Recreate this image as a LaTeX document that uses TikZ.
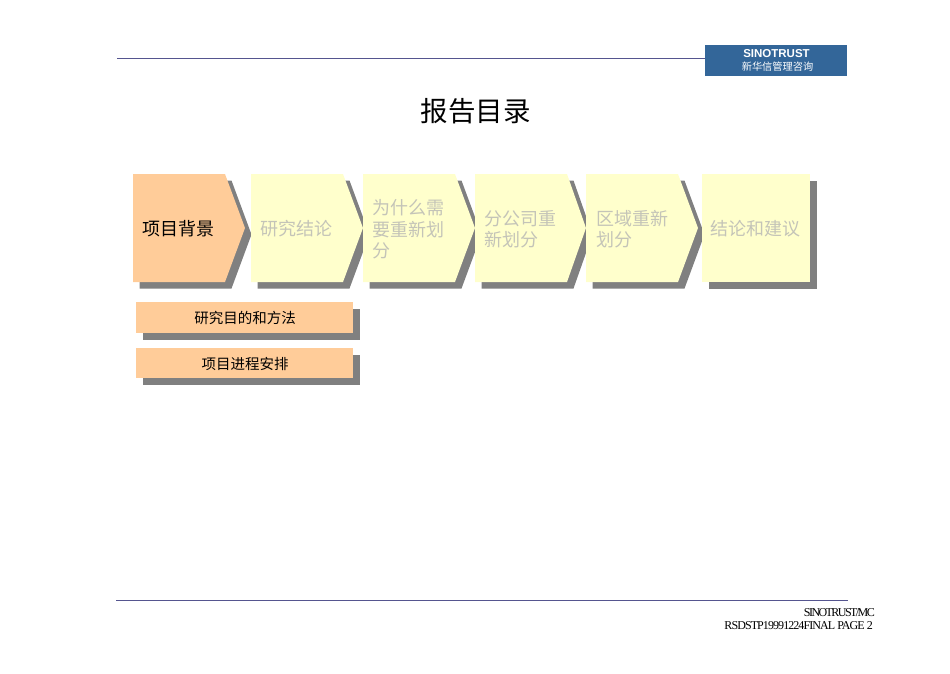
\documentclass[tikz,border=0pt]{standalone}
\usepackage{fontspec}
\setmainfont{Liberation Serif}
\setsansfont{Liberation Sans}
\newfontfamily\cjk{Noto Sans CJK SC}
\definecolor{peach}{HTML}{FFCC99}
\definecolor{paleyellow}{HTML}{FFFFCC}
\definecolor{shadowgray}{HTML}{808080}
\definecolor{fadedtext}{HTML}{C4C4B8}
\definecolor{rulecolor}{HTML}{55558F}
\definecolor{logoblue}{HTML}{336699}
\tikzset{
    shadowshape/.style={fill=shadowgray,draw=none},
    activeshape/.style={fill=peach,draw=none},
    idleshape/.style={fill=paleyellow,draw=none},
    activelabel/.style={anchor=west,inner sep=0pt,font=\cjk\fontsize{18}{21.5}\selectfont,text=black,align=left},
    idlelabel/.style={anchor=west,inner sep=0pt,font=\cjk\fontsize{18}{21.5}\selectfont,text=fadedtext,align=left},
    sublabel/.style={inner sep=0pt,font=\cjk\fontsize{14.5}{17}\selectfont,text=black},
    rulerline/.style={rulecolor,line width=0.8pt},
    footerlabel/.style={anchor=east,inner sep=0pt,font=\fontsize{12}{13}\selectfont,text=black}
}
\begin{document}
\begin{tikzpicture}[x=1pt,y=-1pt]

            \useasboundingbox (0,0) rectangle (950,673);

            % rules and logo
            \draw[rulerline] (117,58.5) -- (705,58.5);
            \draw[rulerline] (116,600.5) -- (848,600.5);
            \fill[logoblue] (705,45) rectangle (847,76);
            \path   (776.5,53.5) node (logoname) [inner sep=0pt,text=white,font=\sffamily\bfseries\fontsize{11.5}{12}\selectfont] {SINOTRUST}
                    (777.5,67) node (logocn) [inner sep=0pt,text=white,font=\cjk\fontsize{10.2}{12}\selectfont] {新华信管理咨询};

            \path   (475.5,111) node (title) [inner sep=0pt,font=\cjk\fontsize{27.5}{30}\selectfont] {报告目录};

            % shadows
            \fill[shadowshape] (139.5,180.5) -- (231.5,180.5) -- (251.5,234.5) -- (231.5,288.5) -- (139.5,288.5) -- cycle;
            \fill[shadowshape] (257.5,180.5) -- (349.5,180.5) -- (369.5,234.5) -- (349.5,288.5) -- (257.5,288.5) -- cycle;
            \fill[shadowshape] (369.5,180.5) -- (461.5,180.5) -- (481.5,234.5) -- (461.5,288.5) -- (369.5,288.5) -- cycle;
            \fill[shadowshape] (481.5,180.5) -- (573.5,180.5) -- (592.5,234.5) -- (573.5,288.5) -- (481.5,288.5) -- cycle;
            \fill[shadowshape] (592.5,180.5) -- (684.5,180.5) -- (704.5,234.5) -- (684.5,288.5) -- (592.5,288.5) -- cycle;
            \fill[shadowshape] (708.5,180.5) rectangle (816.5,288.5);
            \fill[shadowshape] (142.5,308.5) rectangle (359.5,339.5);
            \fill[shadowshape] (142.5,354.5) rectangle (359.5,384.5);

            % chevrons
            \fill[activeshape] (133,174) -- (225,174) -- (245,228) -- (225,282) -- (133,282) -- cycle;
            \fill[idleshape] (251,174) -- (343,174) -- (363,228) -- (343,282) -- (251,282) -- cycle;
            \fill[idleshape] (363,174) -- (455,174) -- (475,228) -- (455,282) -- (363,282) -- cycle;
            \fill[idleshape] (475,174) -- (567,174) -- (586,228) -- (567,282) -- (475,282) -- cycle;
            \fill[idleshape] (586,174) -- (678,174) -- (698,228) -- (678,282) -- (586,282) -- cycle;
            \fill[idleshape] (702,174) rectangle (810,282);

            \path   (142,229) node (background) [activelabel] {项目背景}
                    (260,229) node (findings) [idlelabel] {研究结论}
                    (372,229.5) node (whyneeded) [idlelabel] {为什么需\\要重新划\\分}
                    (484,229) node (branches) [idlelabel] {分公司重\\新划分}
                    (596,229) node (regions) [idlelabel] {区域重新\\划分}
                    (710.5,229) node (advice) [idlelabel] {结论和建议};

            % sub items
            \fill[activeshape] (136,302) rectangle (353,333);
            \fill[activeshape] (136,348) rectangle (353,378);
            \path   (245,318) node (methods) [sublabel] {研究目的和方法}
                    (245,364) node (schedule) [sublabel] {项目进程安排};

            % footer
            \path   (875,612.5) node (footera) [footerlabel] {\addfontfeature{LetterSpace=-13}SINOTRUST/MC}
                    (873,626) node (footerb) [footerlabel] {\addfontfeature{LetterSpace=-7.7}RSDSTP19991224FINAL PAGE 2};
        \end{tikzpicture}
\end{document}
